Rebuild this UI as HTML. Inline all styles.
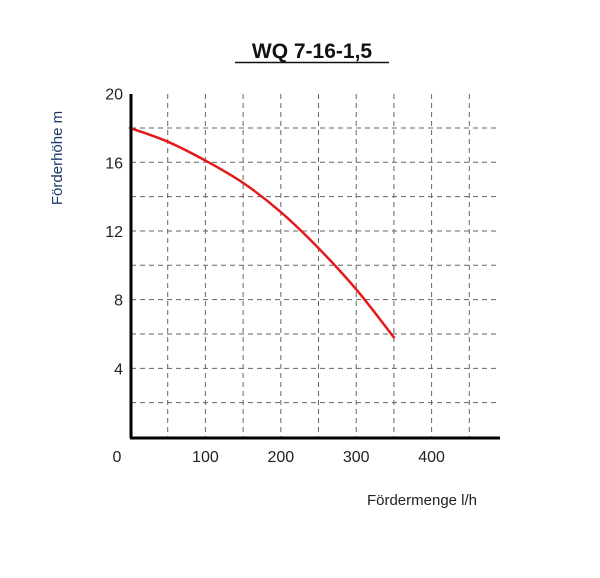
<!DOCTYPE html>
<html><head><meta charset="utf-8"><style>
body{margin:0;background:#fff;width:600px;height:578px;overflow:hidden}
svg{display:block}
</style></head><body>
<svg width="600" height="578" font-family="Liberation Sans, sans-serif">
<text x="312" y="58" text-anchor="middle" font-size="21" font-weight="bold" fill="#111">WQ 7-16-1,5</text>
<line x1="235" y1="62.5" x2="389" y2="62.5" stroke="#111" stroke-width="1.6"/>
<text transform="translate(62,158) rotate(-90)" text-anchor="middle" font-size="15" fill="#1f3a6a">Förderhöhe m</text>
<text x="422" y="505" text-anchor="middle" font-size="15" fill="#222">Fördermenge l/h</text>
<g id="grid"></g><g id="ticks"></g><g id="series"></g>
<line x1="131" y1="94" x2="131" y2="438" stroke="#000" stroke-width="3"/>
<line x1="130" y1="438" x2="500" y2="438" stroke="#000" stroke-width="3"/>
</svg>
<script>
const flowValues=[0,50,100,150,200,250,300,350];
const headValues=[18,17.2,16.1,14.8,13.1,11.0,8.6,5.8];
const xTickLabels=[0,100,200,300,400];
const yTickLabels=[4,8,12,16,20];
const xGridValues=[50,100,150,200,250,300,350,400,450];
const yGridValues=[2,4,6,8,10,12,14,16,18];
const NS='http://www.w3.org/2000/svg';
function sx(v){return 130+v*0.754;}
function sy(v){return 437-v*17.17;}
function mk(tag,attrs,parent){const e=document.createElementNS(NS,tag);for(const k in attrs)e.setAttribute(k,attrs[k]);document.getElementById(parent).appendChild(e);return e;}
xGridValues.forEach(v=>{const l=mk('line',{x1:sx(v),x2:sx(v),y1:94,y2:438,stroke:'#666','stroke-width':1,'stroke-dasharray':'5,4'},'grid');

});
yGridValues.forEach(v=>{const l=mk('line',{x1:131,x2:500,y1:sy(v),y2:sy(v),stroke:'#666','stroke-width':1,'stroke-dasharray':'5,4'},'grid');

});
xTickLabels.forEach(v=>{const t=mk('text',{x:v===0?117:sx(v),y:462,'text-anchor':'middle','font-size':16,fill:'#222'},'ticks');t.textContent=v;

});
yTickLabels.forEach(v=>{const t=mk('text',{x:123,y:sy(v)+6,'text-anchor':'end','font-size':16,fill:'#222'},'ticks');t.textContent=v;

});
const pts=flowValues.map((f,i)=>[sx(f),sy(headValues[i])]);
let d='M'+pts[0][0]+','+pts[0][1];
for(let i=0;i<pts.length-1;i++){
  const p0=pts[Math.max(0,i-1)],p1=pts[i],p2=pts[i+1],p3=pts[Math.min(pts.length-1,i+2)];
  const c1x=p1[0]+(p2[0]-p0[0])/6,c1y=p1[1]+(p2[1]-p0[1])/6;
  const c2x=p2[0]-(p3[0]-p1[0])/6,c2y=p2[1]-(p3[1]-p1[1])/6;
  d+=' C'+c1x+','+c1y+' '+c2x+','+c2y+' '+p2[0]+','+p2[1];
}
const p=mk('path',{d:d,fill:'none',stroke:'#e3191c','stroke-width':2.5,'stroke-linejoin':'round','stroke-linecap':'round'},'series');


</script>
</body></html>
